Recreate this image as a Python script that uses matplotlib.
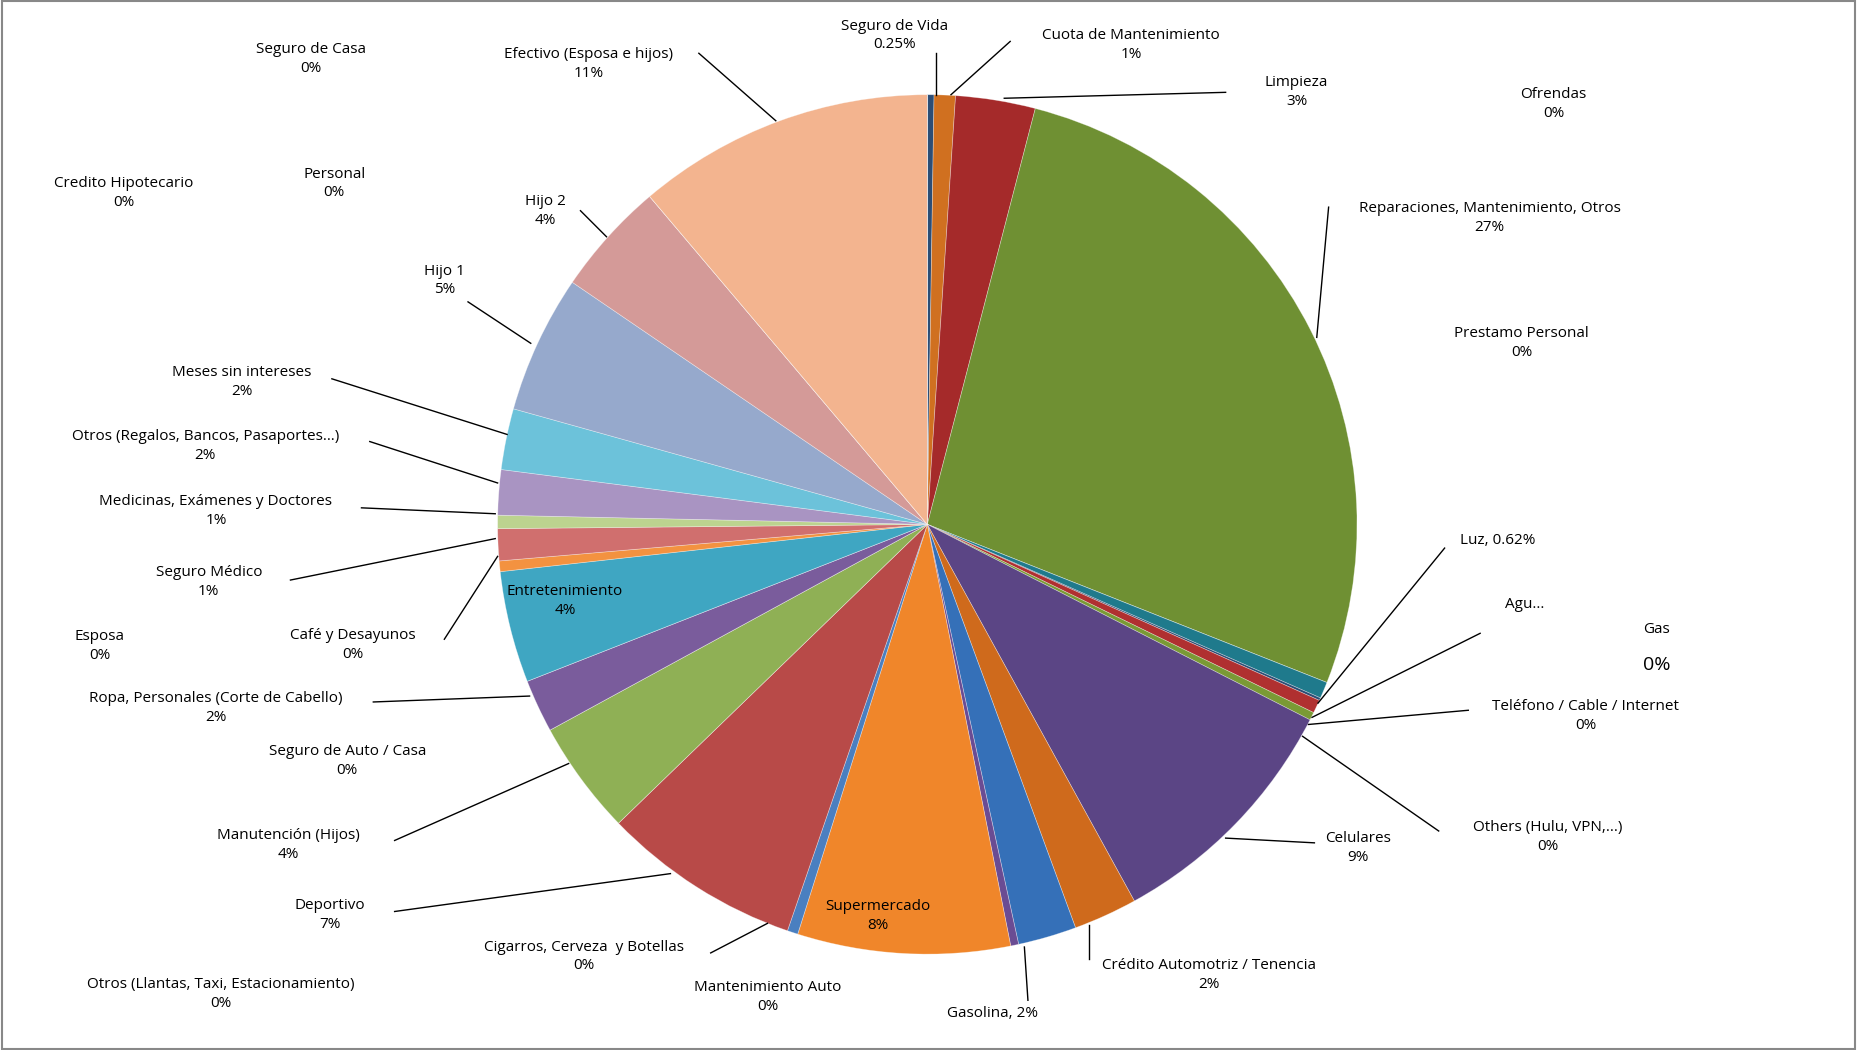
import matplotlib
matplotlib.use("Agg")
import matplotlib.pyplot as plt
import numpy as np

categories = ["Seguro de Vida","Cuota de Mantenimiento","Limpieza","Reparaciones, Mantenimiento, Otros",
 "Prestamo Personal","Luz","Agua","Teléfono / Cable / Internet","Others (Hulu, VPN,...)","Celulares",
 "Crédito Automotriz / Tenencia","Gasolina","Mantenimiento Auto","Supermercado","Cigarros, Cerveza  y Botellas",
 "Deportivo","Otros (Llantas, Taxi, Estacionamiento)","Manutención (Hijos)","Seguro de Auto / Casa",
 "Ropa, Personales (Corte de Cabello)","Esposa","Entretenimiento","Café y Desayunos","Seguro Médico",
 "Medicinas, Exámenes y Doctores","Otros (Regalos, Bancos, Pasaportes…)","Meses sin intereses","Hijo 1","Hijo 2",
 "Personal","Credito Hipotecario","Seguro de Casa","Efectivo (Esposa e hijos)","Ofrendas","Gas"]
values = [0.25,0.8,3.0,27.0,0,0.62,0.1,0.5,0.3,9.5,2.4,2.2,0.3,8.0,0.4,7.5,0,4.3,0,2.0,0,4.2,0.4,1.2,0.5,1.7,2.3,5.2,4.3,0,0,0,11.2,0,0]
label_texts = ["Seguro de Vida\n0.25%","Cuota de Mantenimiento\n1%","Limpieza\n3%","Reparaciones, Mantenimiento, Otros\n27%",
 "Prestamo Personal\n0%","Luz, 0.62%","Agu...","Teléfono / Cable / Internet\n0%","Others (Hulu, VPN,...)\n0%","Celulares\n9%",
 "Crédito Automotriz / Tenencia\n2%","Gasolina, 2%","Mantenimiento Auto\n0%","Supermercado\n8%","Cigarros, Cerveza  y Botellas\n0%",
 "Deportivo\n7%","Otros (Llantas, Taxi, Estacionamiento)\n0%","Manutención (Hijos)\n4%","Seguro de Auto / Casa\n0%",
 "Ropa, Personales (Corte de Cabello)\n2%","Esposa\n0%","Entretenimiento\n4%","Café y Desayunos\n0%","Seguro Médico\n1%",
 "Medicinas, Exámenes y Doctores\n1%","Otros (Regalos, Bancos, Pasaportes…)\n2%","Meses sin intereses\n2%","Hijo 1\n5%","Hijo 2\n4%",
 "Personal\n0%","Credito Hipotecario\n0%","Seguro de Casa\n0%","Efectivo (Esposa e hijos)\n11%","Ofrendas\n0%",None]

colors = ["#2c4d75","#d07020","#a52a2a","#6f9033","#6f9033","#1f7a8c","#2c4d75","#b03030","#7a9a35","#5b4585",
 "#cf6a1c","#3570b8","#6a4c93","#f0862a","#4a7fc0","#b84a48","#b84a48","#8fb055","#8fb055","#7a5c9c","#7a5c9c",
 "#3fa6c2","#f39240","#d06f6e","#bcd38f","#a994c2","#6cc2da","#96a9cc","#d49a98","#d49a98","#d49a98","#d49a98","#f3b48f","#f3b48f","#f3b48f"]

# label centres in image pixel coords (x, y from top)
label_pos = [(755,30),(955,38),(1095,78),(1258,184),(1285,290),(1265,457),(1288,511),(1339,605),(1307,707),(1147,716),
 (1021,824),(838,856),(648,842),(741,774),(493,808),(278,773),(186,840),(243,714),(293,643),(182,598),(84,546),
 (477,508),(298,545),(176,492),(182,432),(173,377),(204,323),(375,237),(460,178),(282,155),(104,163),(262,50),(497,54),(1312,88),(1399,545)]
# leader anchors near labels (None = no leader)
anchors = {0:(790,45),1:(853,35),2:(1035,78),3:(1122,175),5:(1220,463),6:(1250,535),7:(1240,600),8:(1215,702),
 9:(1110,712),10:(920,810),11:(868,845),14:(600,805),15:(333,770),17:(333,710),19:(315,593),22:(375,540),
 23:(245,490),24:(305,429),25:(312,373),26:(280,320),27:(395,255),28:(490,178),32:(590,45)}
elbows = {1:(803,80),2:(848,83),3:(1112,285),6:(1108,606),7:(1105,612),8:(1100,622),9:(1035,708),10:(920,781),
 11:(865,800),14:(648,780),15:(566,738),17:(480,645),19:(447,588),22:(420,470),23:(418,455),24:(418,434),
 25:(420,408),26:(428,367),27:(448,290),28:(512,200),32:(655,102),0:(790,80),5:(1113,594)}

W, H = 1568, 887
fig = plt.figure(figsize=(18.57,10.5), dpi=100)
ax = fig.add_axes([0,0,1,1])
ax.set_xlim(0,W); ax.set_ylim(0,H); ax.set_aspect('equal'); ax.axis('off')
cx, cy, R = 783, H-443, 363
vals = np.array(values, float)
ax.pie(vals, colors=colors, startangle=90, counterclock=False, center=(cx,cy), radius=R,
       wedgeprops=dict(linewidth=0.5, edgecolor=(1,1,1,0.4)))
ax.set_xlim(0,W); ax.set_ylim(0,H)

fn = "Open Sans"
for i, t in enumerate(label_texts):
    if t is None: continue
    x, y = label_pos[i]
    ax.text(x, H-y, t, ha='center', va='center', fontsize=11, family=fn, linespacing=1.35)
    if i in anchors and i in elbows:
        ex, ey = elbows[i]; axx, ayy = anchors[i]
        ax.plot([ex, axx], [H-ey, H-ayy], color='black', lw=1)
ax.text(1399, H-532, "Gas", ha='center', va='center', fontsize=11, family=fn)
ax.text(1399, H-562, "0%", ha='center', va='center', fontsize=14, family=fn)
fig.patches.append(plt.Rectangle((0.001,0.001),0.998,0.998, transform=fig.transFigure, fill=False, ec='#888888', lw=1.5))
fig.savefig("out.png", dpi=100)
